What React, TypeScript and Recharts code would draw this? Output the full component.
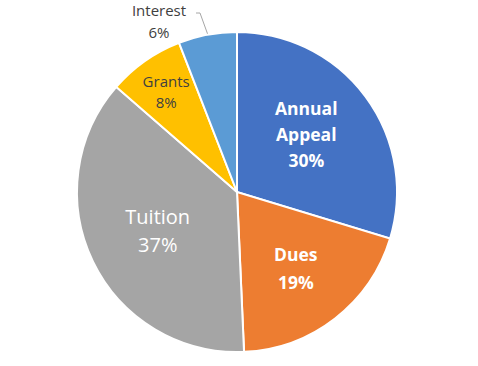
import React from 'react';
import { PieChart, Pie, Cell } from 'recharts';

const categories = ['Annual Appeal', 'Dues', 'Tuition', 'Grants', 'Interest'];
const values = [29.7, 19.6, 37.1, 7.7, 5.9];
const percentLabels = ['30%', '19%', '37%', '8%', '6%'];
const colors = ['#4472C4', '#ED7D31', '#A5A5A5', '#FFC000', '#5B9BD5'];
const labelLines: string[][] = [['Annual', 'Appeal'], ['Dues'], ['Tuition'], ['Grants'], ['Interest']];

const data = categories.map((name, i) => ({ name, value: values[i] }));

const labelStyle = [
  { r: 0.57, dx: -4, dy: -4, size: 17.5, weight: 700, fill: '#ffffff', lh: 26 },
  { r: 0.6, dx: 0, dy: 0, size: 17.5, weight: 700, fill: '#ffffff', lh: 28 },
  { r: 0.55, dx: 0, dy: 0, size: 20, weight: 400, fill: '#ffffff', lh: 28 },
  { r: 0.77, dx: 0, dy: 0, size: 15, weight: 400, fill: '#404040', lh: 21 },
  { r: 1.16, dx: 0, dy: 0, size: 15, weight: 400, fill: '#404040', lh: 22 },
];

const RAD = Math.PI / 180;

const renderLabel = (props: any) => {
  const { cx, cy, midAngle, outerRadius, index } = props;
  const st = labelStyle[index];
  const lines = [...labelLines[index], percentLabels[index]];
  let x = cx + outerRadius * st.r * Math.cos(-midAngle * RAD) + st.dx;
  let y = cy + outerRadius * st.r * Math.sin(-midAngle * RAD) + st.dy;
  let leader = null;
  if (index === 4) {
    x = cx - 78;
    y = cy - 171;
    const ex = cx + outerRadius * Math.cos(-midAngle * RAD);
    const ey = cy + outerRadius * Math.sin(-midAngle * RAD);
    leader = (
      <polyline
        points={`${x + 37},${y - 8} ${x + 41},${y - 8} ${ex},${ey - 1}`}
        fill="none"
        stroke="#A6A6A6"
        strokeWidth={1}
      />
    );
  }
  const total = lines.length;
  const startY = y - ((total - 1) * st.lh) / 2;
  return (
    <g key={`lbl-${index}`}>
      {leader}
      <text
        x={x}
        y={startY}
        textAnchor="middle"
        dominantBaseline="central"
        fill={st.fill}
        fontSize={st.size}
        fontWeight={st.weight}
        fontFamily="'Open Sans', 'Liberation Sans', sans-serif"
      >
        {lines.map((l, i) => (
          <tspan key={i} x={x} y={startY + i * st.lh}>
            {l}
          </tspan>
        ))}
      </text>
    </g>
  );
};

export default function App() {
  return (
    <div style={{ position: 'absolute', left: 0, top: 0, width: 478, height: 366, background: '#fff' }}>
      <PieChart width={478} height={366} margin={{ top: 0, right: 0, bottom: 0, left: 0 }}>
        <Pie
          data={data}
          dataKey="value"
          nameKey="name"
          cx={237}
          cy={192}
          outerRadius={160}
          startAngle={90}
          endAngle={-270}
          stroke="#ffffff"
          strokeWidth={2}
          label={renderLabel}
          labelLine={false}
          isAnimationActive={false}
        >
          {data.map((d, i) => (
            <Cell key={d.name} fill={colors[i]} />
          ))}
        </Pie>
      </PieChart>
    </div>
  );
}
